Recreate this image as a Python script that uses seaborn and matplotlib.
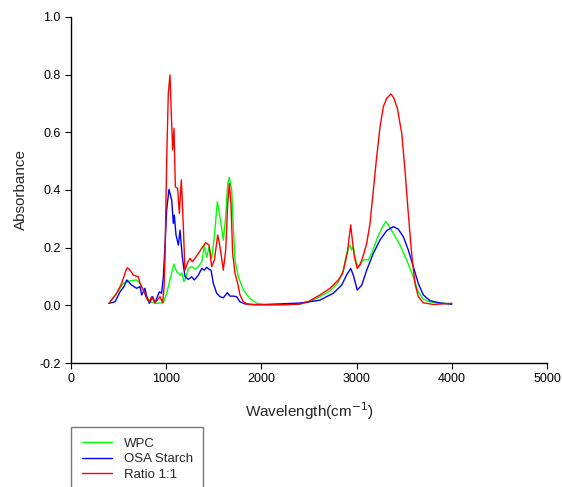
import matplotlib
matplotlib.use("Agg")
import matplotlib.pyplot as plt
import seaborn as sns
import pandas as pd

# WPC
wpc_wn = [400, 480, 550, 620, 690, 725, 777, 830, 900, 970, 1005, 1040, 1080, 1110, 1145, 1165,
          1187, 1210, 1232, 1268, 1303, 1338, 1373, 1401, 1425, 1450, 1478, 1506, 1537, 1565,
          1600, 1625, 1646, 1663, 1688, 1705, 1723, 1758, 1810, 1880, 1950, 2040, 2200, 2400,
          2500, 2615, 2720, 2808, 2861, 2895, 2930, 2948, 2965, 2994, 3018, 3054, 3088, 3123,
          3158, 3211, 3264, 3306, 3333, 3386, 3456, 3526, 3596, 3648, 3701, 3771, 3876, 4000]
wpc_abs = [0.007, 0.042, 0.076, 0.085, 0.088, 0.076, 0.042, 0.012, 0.007, 0.009, 0.042, 0.088,
           0.143, 0.117, 0.105, 0.112, 0.082, 0.100, 0.128, 0.134, 0.125, 0.134, 0.151, 0.206,
           0.166, 0.203, 0.163, 0.238, 0.359, 0.307, 0.226, 0.307, 0.423, 0.444, 0.400, 0.273,
           0.157, 0.099, 0.053, 0.024, 0.007, 0.002, 0.002, 0.004, 0.012, 0.030, 0.050, 0.080,
           0.122, 0.180, 0.209, 0.192, 0.203, 0.151, 0.134, 0.151, 0.159, 0.157, 0.180, 0.227,
           0.267, 0.290, 0.279, 0.250, 0.209, 0.157, 0.099, 0.047, 0.021, 0.012, 0.008, 0.005]

# OSA Starch
osa_wn = [400, 462, 515, 557, 585, 638, 690, 725, 742, 777, 795, 822, 858, 882, 928, 952, 970,
          987, 1005, 1029, 1058, 1075, 1085, 1103, 1128, 1145, 1169, 1197, 1232, 1268, 1296,
          1338, 1373, 1401, 1425, 1450, 1471, 1495, 1530, 1565, 1600, 1642, 1670, 1705, 1740,
          1775, 1828, 1950, 2200, 2400, 2500, 2615, 2755, 2843, 2895, 2938, 2965, 3007, 3054,
          3106, 3176, 3246, 3316, 3386, 3438, 3491, 3543, 3596, 3648, 3701, 3771, 3876, 4000]
osa_abs = [0.007, 0.012, 0.047, 0.065, 0.088, 0.070, 0.059, 0.065, 0.036, 0.059, 0.030, 0.007,
           0.030, 0.009, 0.047, 0.042, 0.099, 0.203, 0.331, 0.402, 0.365, 0.284, 0.313, 0.244,
           0.209, 0.261, 0.169, 0.100, 0.090, 0.099, 0.088, 0.105, 0.128, 0.122, 0.132, 0.125,
           0.122, 0.076, 0.042, 0.030, 0.026, 0.044, 0.032, 0.032, 0.030, 0.012, 0.005, 0.002,
           0.005, 0.008, 0.012, 0.018, 0.042, 0.070, 0.105, 0.128, 0.105, 0.053, 0.070, 0.122,
           0.180, 0.227, 0.259, 0.273, 0.264, 0.238, 0.192, 0.134, 0.076, 0.036, 0.016, 0.008,
           0.004]

# Ratio 1:1
mix_wn = [400, 480, 532, 578, 592, 620, 655, 707, 725, 760, 795, 822, 847, 882, 935, 963, 977,
          987, 1005, 1022, 1040, 1055, 1068, 1082, 1096, 1120, 1138, 1159, 1173, 1197, 1222,
          1250, 1274, 1303, 1338, 1373, 1415, 1450, 1478, 1506, 1541, 1565, 1600, 1625, 1646,
          1663, 1680, 1698, 1723, 1751, 1775, 1810, 1862, 2000, 2200, 2400, 2500, 2615, 2720,
          2808, 2854, 2878, 2902, 2923, 2938, 2955, 2976, 3007, 3036, 3071, 3106, 3141, 3176,
          3211, 3246, 3281, 3316, 3361, 3393, 3428, 3474, 3508, 3543, 3578, 3613, 3648, 3701,
          3806, 4000]
mix_abs = [0.007, 0.042, 0.076, 0.122, 0.130, 0.122, 0.105, 0.099, 0.076, 0.053, 0.024, 0.012,
           0.030, 0.009, 0.030, 0.009, 0.060, 0.157, 0.504, 0.735, 0.799, 0.650, 0.539, 0.614,
           0.411, 0.406, 0.319, 0.435, 0.331, 0.122, 0.146, 0.163, 0.151, 0.163, 0.180, 0.198,
           0.217, 0.209, 0.134, 0.157, 0.244, 0.203, 0.122, 0.192, 0.354, 0.423, 0.354, 0.180,
           0.111, 0.076, 0.036, 0.012, 0.003, 0.002, 0.002, 0.004, 0.014, 0.036, 0.059, 0.088,
           0.111, 0.146, 0.180, 0.238, 0.279, 0.227, 0.169, 0.128, 0.140, 0.174, 0.215, 0.284,
           0.400, 0.515, 0.619, 0.689, 0.718, 0.733, 0.718, 0.683, 0.597, 0.469, 0.319, 0.180,
           0.076, 0.030, 0.009, 0.003, 0.007]

series = [("WPC", wpc_wn, wpc_abs, "#00ff00"),
          ("OSA Starch", osa_wn, osa_abs, "#0000ff"),
          ("Ratio 1:1", mix_wn, mix_abs, "#ff0000")]

sns.set_style("ticks")
plt.rcParams["font.family"] = ["Liberation Sans", "DejaVu Sans"]

fig = plt.figure(figsize=(5.62, 4.87), dpi=100)
ax = fig.add_axes([71 / 562, 1 - 363 / 487, 476 / 562, 346 / 487])

for name, wn, ab, col in series:
    df = pd.DataFrame({"wn": wn, "abs": ab})
    sns.lineplot(data=df, x="wn", y="abs", ax=ax, color=col, linewidth=1.0,
                 estimator=None, sort=False, label=name, legend=False)

ax.set_xlim(0, 5000)
ax.set_ylim(-0.2, 1.0)
ax.set_xticks([0, 1000, 2000, 3000, 4000, 5000])
ax.set_yticks([-0.2, 0.0, 0.2, 0.4, 0.6, 0.8, 1.0])
ax.set_yticklabels(["-0.2", "0.0", "0.2", "0.4", "0.6", "0.8", "1.0"])
ax.tick_params(labelsize=9, length=4, width=0.8, colors="black")
ax.set_xlabel("Wavelength(cm$^{-1}$)", fontsize=11, labelpad=11)
ax.set_ylabel("Absorbance", fontsize=11, labelpad=8)
sns.despine(ax=ax)
for s in ["left", "bottom"]:
    ax.spines[s].set_color("black")
    ax.spines[s].set_linewidth(1.0)

handles, labels = ax.get_legend_handles_labels()
leg = fig.legend(handles, labels, loc="upper left", bbox_to_anchor=(71 / 562, 1 - 427 / 487),
                 borderaxespad=0, fontsize=9.5, frameon=True, fancybox=False,
                 edgecolor="#555555", handlelength=2.3, labelspacing=0.25,
                 borderpad=0.8, handletextpad=0.9)
leg.get_frame().set_linewidth(1.0)
for h in leg.get_lines():
    h.set_linewidth(1.0)

fig.savefig("out.png", dpi=100)
